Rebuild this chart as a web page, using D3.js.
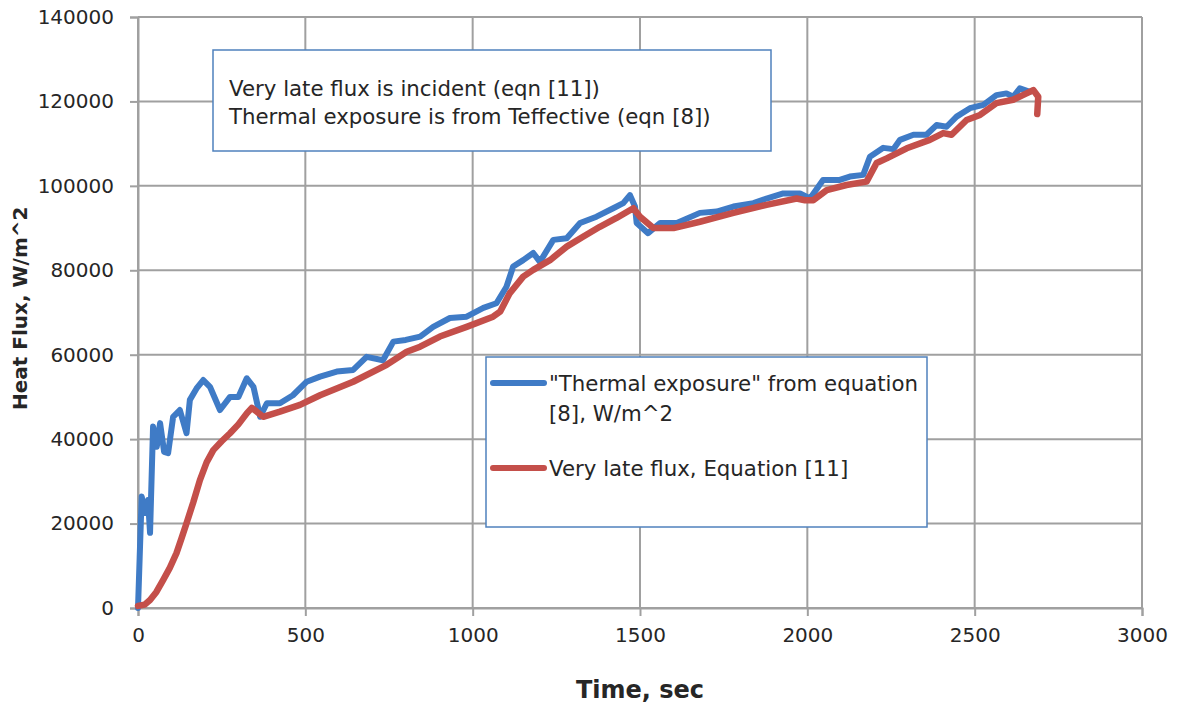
<!doctype html>
<html lang="en">
<head>
<meta charset="utf-8">
<title>Heat Flux vs Time</title>
<style>
html, body, svg { margin: 0; padding: 0; border: 0; background: #fff; }
text { font-family: "DejaVu Sans", Verdana, sans-serif; fill: #262626; }
</style>
</head>
<body>
<svg></svg>
<script src="https://d3js.org/d3.v7.min.js"></script>
<script>
// "Thermal exposure" from equation [8]
var timeBlue = [0, 5, 11, 21, 30, 36, 45, 56, 66, 78, 90, 105, 125, 145, 155, 175, 195, 215, 245, 275, 300, 325, 345, 365, 385, 424, 463, 504, 544, 594, 643, 683, 732, 763, 800, 843, 882, 932, 982, 1032, 1071, 1101, 1121, 1151, 1181, 1201, 1241, 1281, 1321, 1370, 1420, 1450, 1470, 1485, 1490, 1524, 1560, 1610, 1679, 1729, 1779, 1839, 1878, 1928, 1978, 2008, 2047, 2097, 2127, 2167, 2187, 2227, 2257, 2277, 2317, 2356, 2386, 2416, 2446, 2486, 2526, 2565, 2595, 2615, 2635, 2665];
var fluxBlue = [0, 12000, 26400, 22500, 25600, 17800, 43000, 38200, 43800, 37000, 36700, 45300, 46900, 41400, 49300, 52000, 54000, 52400, 46900, 50000, 50000, 54400, 52400, 45300, 48500, 48500, 50400, 53600, 54800, 56000, 56400, 59500, 58700, 63100, 63500, 64300, 66600, 68700, 69000, 71100, 72200, 76100, 80900, 82400, 84100, 82000, 87200, 87600, 91200, 92700, 94700, 95900, 97800, 95100, 91200, 88800, 91200, 91200, 93600, 93900, 95100, 95900, 97000, 98200, 98200, 97000, 101400, 101400, 102200, 102600, 106900, 109000, 108700, 110900, 112100, 112100, 114400, 114000, 116400, 118400, 119200, 121500, 121900, 121100, 123100, 122300];

// Very late flux, Equation [11]
var timeRed = [0, 20, 36, 55, 75, 95, 115, 130, 145, 165, 185, 205, 225, 250, 275, 300, 325, 340, 355, 374, 424, 484, 544, 643, 743, 803, 843, 902, 982, 1061, 1082, 1111, 1151, 1181, 1231, 1281, 1331, 1380, 1430, 1480, 1500, 1540, 1600, 1679, 1779, 1878, 1968, 1993, 2018, 2058, 2117, 2177, 2207, 2237, 2297, 2366, 2406, 2431, 2476, 2516, 2565, 2615, 2655, 2675, 2690, 2687];
var fluxRed = [500, 800, 1900, 3800, 6600, 9500, 13000, 16500, 20100, 25000, 30300, 34500, 37400, 39500, 41400, 43500, 46100, 47400, 46500, 45300, 46500, 48100, 50400, 53600, 57600, 60700, 61900, 64300, 66600, 69000, 70200, 74600, 78500, 80100, 82400, 85600, 88000, 90300, 92400, 94700, 92700, 90000, 90000, 91500, 93600, 95500, 97000, 96600, 96600, 99000, 100200, 101000, 105400, 106500, 108900, 110900, 112500, 112100, 115600, 116800, 119600, 120400, 121900, 122700, 121100, 117000];

var xTicks = [0, 500, 1000, 1500, 2000, 2500, 3000];
var yTicks = [0, 20000, 40000, 60000, 80000, 100000, 120000, 140000];

var seriesNames = ['"Thermal exposure" from equation', '[8], W/m^2', 'Very late flux, Equation [11]'];
var noteLines = ['Very late flux is incident (eqn [11])', 'Thermal exposure is from Teffective (eqn [8])'];

var W = 1178, H = 705;
var m = {left: 138, right: 36, top: 17, bottom: 97};
var blue = "#3f7bc6", red = "#c44f4a", gridCol = "#a0a0a0";

var svg = d3.select("svg").attr("width", W).attr("height", H);

var x = d3.scaleLinear().domain([0, 3000]).range([m.left, W - m.right]);
var y = d3.scaleLinear().domain([0, 140000]).range([H - m.bottom, m.top]);

// grid
svg.append("g").selectAll("line").data(yTicks).enter().append("line")
  .attr("x1", x(0)).attr("x2", x(3000))
  .attr("y1", function(d){ return y(d); }).attr("y2", function(d){ return y(d); })
  .attr("stroke", gridCol).attr("stroke-width", 2);
svg.append("g").selectAll("line").data(xTicks).enter().append("line")
  .attr("y1", y(0)).attr("y2", y(140000))
  .attr("x1", function(d){ return x(d); }).attr("x2", function(d){ return x(d); })
  .attr("stroke", gridCol).attr("stroke-width", 2);

// axes
var xAxis = svg.append("g").attr("transform", "translate(0," + y(0) + ")")
  .call(d3.axisBottom(x).tickValues(xTicks).tickSize(8).tickPadding(12).tickFormat(d3.format("d")));
var yAxis = svg.append("g").attr("transform", "translate(" + x(0) + ",0)")
  .call(d3.axisLeft(y).tickValues(yTicks).tickSize(8).tickPadding(16).tickFormat(d3.format("d")));
[xAxis, yAxis].forEach(function(a){
  a.select(".domain").attr("stroke", gridCol).attr("stroke-width", 2);
  a.selectAll(".tick line").attr("stroke", gridCol).attr("stroke-width", 2);
  a.selectAll(".tick text").attr("font-size", 20).attr("font-family", "DejaVu Sans").attr("fill", "#262626");
});
xAxis.selectAll(".tick text").attr("dy", "0.71em");

// lines
var lineBlue = d3.line().x(function(d, i){ return x(timeBlue[i]); }).y(function(d){ return y(d); });
var lineRed = d3.line().x(function(d, i){ return x(timeRed[i]); }).y(function(d){ return y(d); });

svg.append("path").datum(fluxBlue).attr("d", lineBlue)
  .attr("fill", "none").attr("stroke", blue).attr("stroke-width", 6)
  .attr("stroke-linejoin", "round").attr("stroke-linecap", "round");
svg.append("path").datum(fluxRed).attr("d", lineRed)
  .attr("fill", "none").attr("stroke", red).attr("stroke-width", 6.5)
  .attr("stroke-linejoin", "round").attr("stroke-linecap", "round");

// axis titles
svg.append("text").attr("x", x(1500)).attr("y", 698).attr("text-anchor", "middle")
  .attr("font-size", 24).attr("font-weight", "bold").text("Time, sec");
svg.append("text").attr("transform", "translate(27," + y(71000) + ") rotate(-90)")
  .attr("text-anchor", "middle").attr("font-size", 20).attr("font-weight", "bold")
  .text("Heat Flux, W/m^2");

// note box
svg.append("rect").attr("x", 213).attr("y", 50).attr("width", 558).attr("height", 101)
  .attr("fill", "#fff").attr("stroke", "#4f81bd").attr("stroke-width", 1.5);
svg.append("g").selectAll("text").data(noteLines).enter().append("text")
  .attr("x", 229).attr("y", function(d, i){ return 96 + i * 28; })
  .attr("font-size", 21.3).text(function(d){ return d; });

// legend
svg.append("rect").attr("x", 486).attr("y", 357).attr("width", 441).attr("height", 170)
  .attr("fill", "#fff").attr("stroke", "#4f81bd").attr("stroke-width", 1.5);
[[blue, 383], [red, 468]].forEach(function(s){
  svg.append("line").attr("x1", 493).attr("x2", 544).attr("y1", s[1]).attr("y2", s[1])
    .attr("stroke", s[0]).attr("stroke-width", 6).attr("stroke-linecap", "round");
});
svg.append("g").selectAll("text").data(seriesNames).enter().append("text")
  .attr("x", 549).attr("y", function(d, i){ return [391, 421, 476][i]; })
  .attr("font-size", 21.3).text(function(d){ return d; });
</script>
</body>
</html>
